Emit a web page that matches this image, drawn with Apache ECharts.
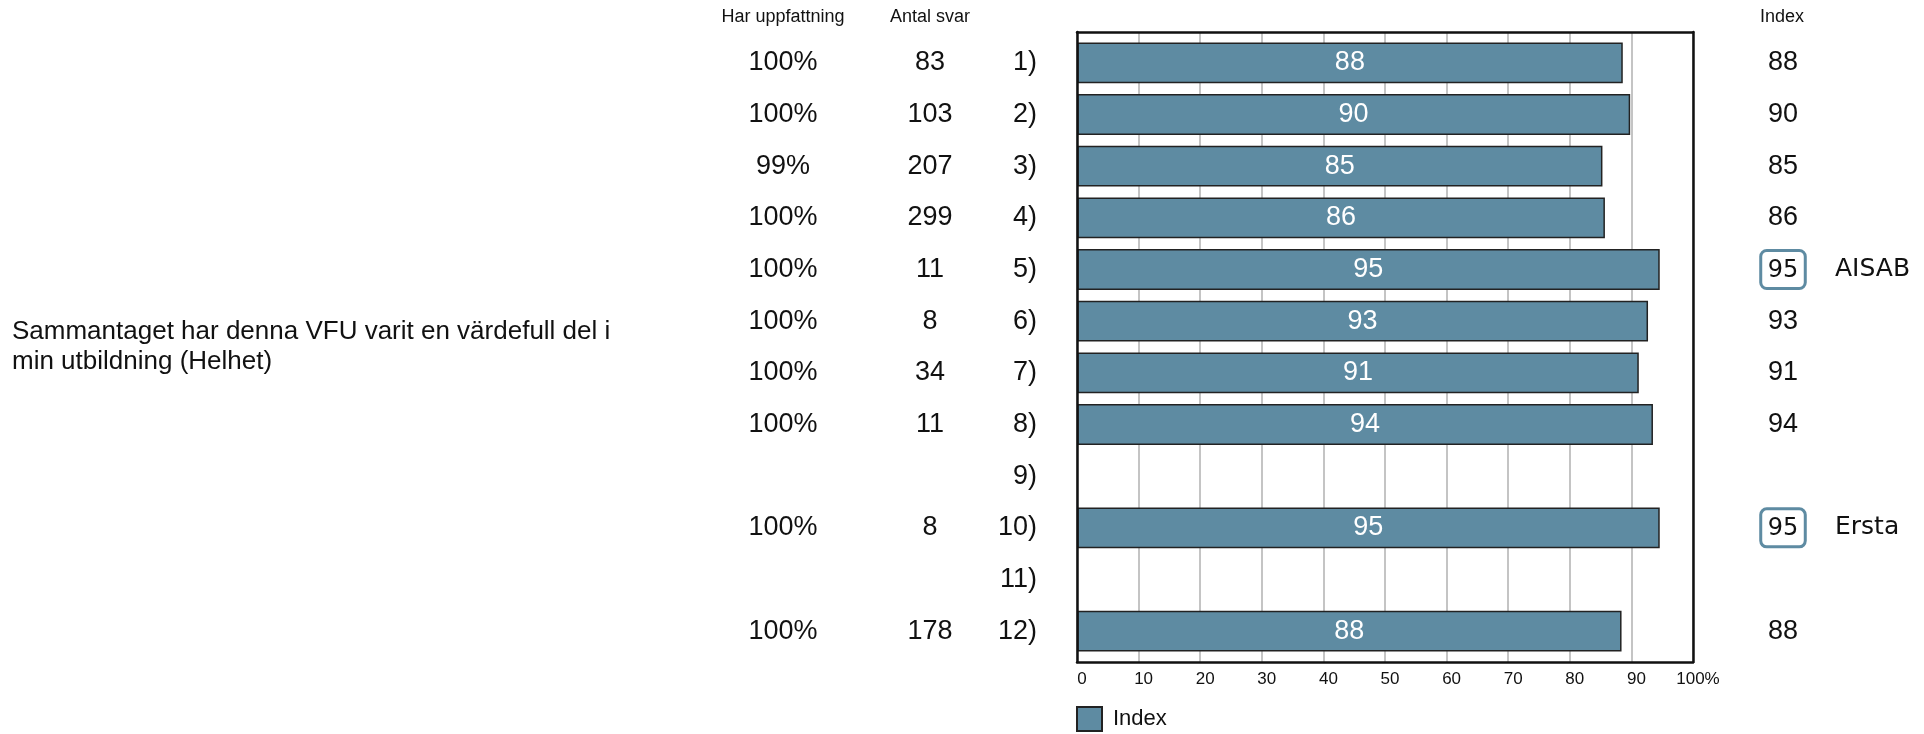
<!DOCTYPE html>
<html>
<head>
<meta charset="utf-8">
<script src="https://cdn.jsdelivr.net/npm/echarts@6/dist/echarts.min.js"></script>
<style>
    html, body { margin: 0; padding: 0; background: #fff; }
    #chart { width: 1924px; height: 734px; }
</style>
</head>
<body>
<div id="chart"></div>
<script>
const questionText = 'Sammantaget har denna VFU varit en värdefull del i\nmin utbildning (Helhet)'
const rowLabels = ['1)', '2)', '3)', '4)', '5)', '6)', '7)', '8)', '9)', '10)', '11)', '12)']
const sharePct = ['100%', '100%', '99%', '100%', '100%', '100%', '100%', '100%', '', '100%', '', '100%']
const answerCount = ['83', '103', '207', '299', '11', '8', '34', '11', '', '8', '', '178']
const barValues = [88.6, 89.8, 85.3, 85.7, 94.6, 92.7, 91.2, 93.5, null, 94.6, null, 88.4]
const indexValues = [88, 90, 85, 86, 95, 93, 91, 94, null, 95, null, 88]
const siteNames = ['', '', '', '', 'AISAB', '', '', '', '', 'Ersta', '', '']
const xTicks = [0, 10, 20, 30, 40, 50, 60, 70, 80, 90, 100]

const barColor = '#5e8ba2'
const font = 'Liberation Sans, Arial, sans-serif'
const fontAlt = 'DejaVu Sans, Verdana, sans-serif'

const chart = echarts.init(document.getElementById('chart'), null, { renderer: 'canvas' })

const plotLeft = 1077
const plotRight = 231

const sideAxis = (position, data, margin, align, extra) => Object.assign({
    type: 'category',
    gridIndex: 1,
    position,
    inverse: true,
    data,
    axisLine: { show: false },
    axisTick: { show: false },
    splitLine: { show: false },
    axisLabel: {
        margin,
        align,
        fontFamily: font,
        fontSize: 27,
        color: '#111',
    },
}, extra || {})

// frame axes: only draw the box edges, above the bars
const frameAxis = (type, position, extra) => Object.assign({
    type,
    gridIndex: 0,
    position,
    z: 5,
    axisLine: { show: true, onZero: false, lineStyle: { color: '#111', width: 2.5 } },
    axisTick: { show: false },
    axisLabel: { show: false },
    splitLine: { show: false },
}, extra || {})

chart.setOption({
    backgroundColor: '#fff',
    animation: false,
    grid: [
        // frame with gridlines
        { left: plotLeft, right: plotRight, top: 32, height: 630 },
        // bars
        { left: plotLeft, right: plotRight, top: 37, height: 620 },
    ],
    xAxis: [
        {
            type: 'value',
            gridIndex: 0,
            position: 'bottom',
            min: xTicks[0],
            max: xTicks[xTicks.length - 1],
            interval: 10,
            axisLine: { show: false },
            axisTick: { show: false },
            splitLine: { show: true, lineStyle: { color: '#c4c4c4', width: 2 } },
            axisLabel: {
                margin: 9,
                padding: [0, 0, 0, 10],
                fontFamily: font,
                fontSize: 17,
                color: '#111',
                formatter: v => v === 100 ? '100%' : String(v),
            },
        },
        frameAxis('value', 'top', { min: 0, max: 100 }),
        frameAxis('value', 'bottom', { min: 0, max: 100 }),
        { type: 'value', gridIndex: 1, min: 0, max: 100, show: false },
    ],
    yAxis: [
        frameAxis('category', 'left', { data: rowLabels }),
        frameAxis('category', 'right', { data: rowLabels }),
        sideAxis('left', rowLabels, 40, 'right'),
        sideAxis('left', sharePct, 294, 'center'),
        sideAxis('left', answerCount, 147, 'center'),
        sideAxis('right', indexValues.map(v => v == null ? '' : String(v)), 90, 'center', {
            axisLabel: {
                margin: 90,
                align: 'center',
                color: '#111',
                formatter: (v, i) => {
                    if (v === '') return ''
                    return siteNames[i] ? '{box|' + v + '}' : '{n|' + v + '}'
                },
                rich: {
                    n: { fontFamily: font, fontSize: 27, color: '#111' },
                    box: {
                        fontFamily: fontAlt,
                        fontSize: 24,
                        color: '#111',
                        borderColor: barColor,
                        borderWidth: 3,
                        borderRadius: 6,
                        padding: [8, 7, 6, 7],
                    },
                },
            },
        }),
        sideAxis('right', siteNames, 142, 'left', {
            axisLabel: { margin: 142, align: 'left', fontFamily: fontAlt, fontSize: 25, color: '#111' },
        }),
    ],
    legend: {
        left: plotLeft - 1,
        top: 706,
        padding: 0,
        icon: 'rect',
        itemWidth: 25,
        itemHeight: 24,
        itemGap: 10,
        textStyle: { fontFamily: font, fontSize: 22, color: '#111', padding: [0, 0, 0, 6] },
        data: ['Index'],
    },
    graphic: [
        { type: 'text', left: 12, top: 317, style: { text: questionText, font: '26px ' + font, lineHeight: 30, fill: '#111' } },
        { type: 'text', x: 783, y: 17, style: { text: 'Har uppfattning', font: '18px ' + font, fill: '#111', align: 'center', verticalAlign: 'middle' } },
        { type: 'text', x: 930, y: 17, style: { text: 'Antal svar', font: '18px ' + font, fill: '#111', align: 'center', verticalAlign: 'middle' } },
        { type: 'text', x: 1782, y: 17, style: { text: 'Index', font: '18px ' + font, fill: '#111', align: 'center', verticalAlign: 'middle' } },
    ],
    series: [
        {
            name: 'Index',
            type: 'bar',
            xAxisIndex: 3,
            yAxisIndex: 2,
            barCategoryGap: '21%',
            data: barValues,
            itemStyle: { color: barColor, borderColor: '#222', borderWidth: 1.5 },
            label: {
                show: true,
                position: 'inside',
                fontFamily: font,
                fontSize: 27,
                color: '#fff',
                formatter: p => indexValues[p.dataIndex] == null ? '' : String(indexValues[p.dataIndex]),
            },
        },
    ],
})

window.addEventListener('resize', chart.resize)
</script>
</body>
</html>
